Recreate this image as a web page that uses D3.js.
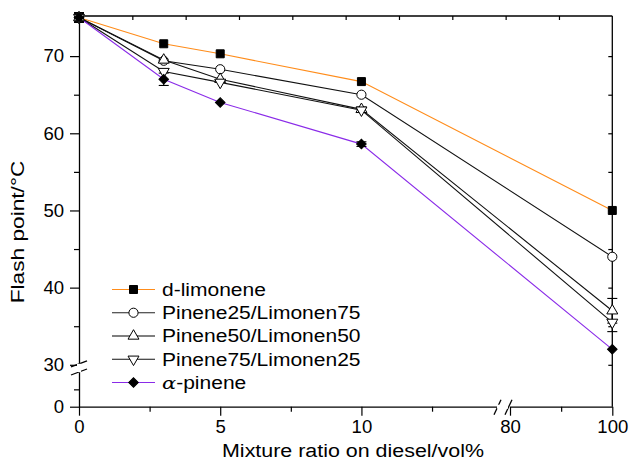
<!DOCTYPE html>
<html>
<head>
<meta charset="utf-8">
<script src="https://cdn.jsdelivr.net/npm/d3@7"></script>
<style>
  html, body { margin: 0; padding: 0; background: #fff; }
  svg { display: block; }
  text { font-family: "Liberation Sans", Arial, Helvetica, sans-serif; fill: #000; }
</style>
</head>
<body>
<svg id="chart" width="630" height="465"></svg>
<script>
// Mixture ratio on diesel (vol%) and measured flash points (°C)
const ratios = [0, 3, 5, 10, 100];
const dLimonene = [75, 71.6, 70.3, 66.7, 50];
const pinene25 = [75, 69.4, 68.3, 65, 44];
const pinene50 = [75, 69.5, 67.0, 63.1, 37];
const pinene75 = [75, 68.0, 66.6, 63.0, 35.5];
const alphaPinene = [75, 67, 64, 58.6, 32];

// Standard deviations (°C) for each point
const errDLimonene = [0.6, 0, 0, 0, 0];
const errPinene25 = [0.6, 0, 0, 0, 0];
const errPinene50 = [0.6, 0, 0, 0.3, 1.6];
const errPinene75 = [0.6, 0, 0, 0.3, 1.2];
const errAlphaPinene = [0.6, 0.8, 0, 0.3, 0];

const seriesNames = ["d-limonene", "Pinene25/Limonen75", "Pinene50/Limonen50", "Pinene75/Limonen25", "α-pinene"];

const xTicksLow = [0, 5, 10];
const xMinorLow = [2.5, 7.5, 12.5];
const xTicksHigh = [80, 100];
const xMinorHigh = [90];
const yTicksHigh = [30, 40, 50, 60, 70];
const yMinorHigh = [35, 45, 55, 65];
const yTicksLow = [0];
const yMinorLow = [5];

const series = [
  { name: seriesNames[0], values: dLimonene, err: errDLimonene, color: "#ff8c1a", legendColor: "#ff8c1a", symbol: "square", fill: "#000" },
  { name: seriesNames[1], values: pinene25, err: errPinene25, color: "#111", legendColor: "#222", symbol: "circle", fill: "#fff" },
  { name: seriesNames[2], values: pinene50, err: errPinene50, color: "#111", legendColor: "#555", symbol: "triUp", fill: "#fff" },
  { name: seriesNames[3], values: pinene75, err: errPinene75, color: "#111", legendColor: "#111", symbol: "triDown", fill: "#fff" },
  { name: seriesNames[4], values: alphaPinene, err: errAlphaPinene, color: "#8a2be8", legendColor: "#8a2be8", symbol: "diamond", fill: "#000" }
];

const svg = d3.select("#chart");

// Broken x axis: 0–15 and 80–100
const xLow = d3.scaleLinear().domain([0, 14.8]).range([79, 497]);
const xHigh = d3.scaleLinear().domain([80, 100]).range([510, 612.3]);
const xPos = v => (v <= 15 ? xLow(v) : xHigh(v));

// Broken y axis: 0–10 and 30–75
const yHigh = d3.scaleLinear().domain([30, 75.2]).range([364.8, 16]);
const yLow = d3.scaleLinear().domain([0, 10]).range([406.7, 372]);

const plotLeft = 79, plotRight = 612.3, plotTop = 16, plotBottom = 406.7;

// Stretch text horizontally to the wide face used in the figure
function widen(sel, k) {
  sel.each(function () {
    const w = this.getComputedTextLength();
    d3.select(this).attr("textLength", w * k).attr("lengthAdjust", "spacingAndGlyphs");
  });
}

function styleAxis(g) {
  g.selectAll("path.domain").attr("stroke", "#000").attr("stroke-width", 1.3);
  g.selectAll(".tick line").attr("stroke", "#000").attr("stroke-width", 1.2);
  g.selectAll(".tick text").style("font-size", "18px").attr("fill", "#000");
}

// Top and right frame lines with short inward ticks
const frame = svg.append("g");
frame.append("line").attr("x1", plotLeft).attr("x2", plotRight).attr("y1", plotTop).attr("y2", plotTop)
  .attr("stroke", "#000").attr("stroke-width", 1.3);
frame.append("line").attr("x1", plotRight).attr("x2", plotRight).attr("y1", plotTop).attr("y2", plotBottom)
  .attr("stroke", "#000").attr("stroke-width", 1.3);
const topScale = d3.scaleLinear().domain([0, 100]).range([plotLeft, plotRight]);
const topAxis = svg.append("g").attr("transform", `translate(0,${plotTop})`)
  .call(d3.axisBottom(topScale).tickValues(d3.range(10, 100, 10)).tickSize(4).tickSizeOuter(0).tickFormat(""));
topAxis.select("path.domain").remove();
styleAxis(topAxis);
const rightAxis = svg.append("g").attr("transform", `translate(${plotRight},0)`)
  .call(d3.axisLeft(yHigh).tickValues([30, 35, 40, 45, 50, 55, 60, 65, 70]).tickSize(4).tickFormat(""));
rightAxis.select("path.domain").remove();
styleAxis(rightAxis);

// Bottom axis, two segments
const xAxisLow = svg.append("g").attr("transform", `translate(0,${plotBottom})`)
  .call(d3.axisBottom(xLow).tickValues(xTicksLow).tickSize(9).tickSizeOuter(0).tickPadding(5).tickFormat(d3.format("d")));
const xAxisLowMinor = svg.append("g").attr("transform", `translate(0,${plotBottom})`)
  .call(d3.axisBottom(xLow).tickValues(xMinorLow).tickSize(5).tickSizeOuter(0).tickFormat(""));
xAxisLowMinor.select("path.domain").remove();
const xAxisHigh = svg.append("g").attr("transform", `translate(0,${plotBottom})`)
  .call(d3.axisBottom(xHigh).tickValues(xTicksHigh).tickSize(9).tickSizeOuter(0).tickPadding(5).tickFormat(d3.format("d")));
const xAxisHighMinor = svg.append("g").attr("transform", `translate(0,${plotBottom})`)
  .call(d3.axisBottom(xHigh).tickValues(xMinorHigh).tickSize(5).tickSizeOuter(0).tickFormat(""));
xAxisHighMinor.select("path.domain").remove();
[xAxisLow, xAxisLowMinor, xAxisHigh, xAxisHighMinor].forEach(styleAxis);

// Left axis, two segments
const yAxisHigh = svg.append("g").attr("transform", `translate(${plotLeft},0)`)
  .call(d3.axisLeft(yHigh).tickValues(yTicksHigh).tickSize(9).tickSizeOuter(0).tickPadding(6).tickFormat(d3.format("d")));
const yAxisHighMinor = svg.append("g").attr("transform", `translate(${plotLeft},0)`)
  .call(d3.axisLeft(yHigh).tickValues(yMinorHigh).tickSize(5).tickSizeOuter(0).tickFormat(""));
yAxisHighMinor.select("path.domain").remove();
const yAxisLow = svg.append("g").attr("transform", `translate(${plotLeft},0)`)
  .call(d3.axisLeft(yLow).tickValues(yTicksLow).tickSize(9).tickSizeOuter(0).tickPadding(6).tickFormat(d3.format("d")));
const yAxisLowMinor = svg.append("g").attr("transform", `translate(${plotLeft},0)`)
  .call(d3.axisLeft(yLow).tickValues(yMinorLow).tickSize(5).tickSizeOuter(0).tickFormat(""));
yAxisLowMinor.select("path.domain").remove();
[yAxisHigh, yAxisHighMinor, yAxisLow, yAxisLowMinor].forEach(styleAxis);

svg.selectAll(".tick text").call(widen, 1.03);

// Axis break marks
const breaks = svg.append("g").attr("stroke", "#000").attr("stroke-width", 1.3).attr("fill", "none");
const yBreakTop = yHigh(30) - 1, yBreakBot = yLow(10);
svg.append("rect").attr("x", plotLeft - 2).attr("y", yBreakTop).attr("width", 4).attr("height", yBreakBot - yBreakTop).attr("fill", "#fff");
breaks.append("line").attr("x1", plotLeft - 8).attr("y1", yBreakTop + 3).attr("x2", plotLeft + 8).attr("y2", yBreakTop - 3);
breaks.append("line").attr("x1", plotLeft - 8).attr("y1", yBreakBot + 3).attr("x2", plotLeft + 8).attr("y2", yBreakBot - 3);
const xBreakL = xLow.range()[1], xBreakR = xHigh.range()[0] - 2;
svg.append("rect").attr("x", xBreakL).attr("y", plotBottom - 2).attr("width", xBreakR - xBreakL).attr("height", 4).attr("fill", "#fff");
breaks.append("line").attr("x1", xBreakL - 3).attr("y1", plotBottom + 8).attr("x2", xBreakL + 4).attr("y2", plotBottom - 7);
breaks.append("line").attr("x1", xBreakR - 3).attr("y1", plotBottom + 8).attr("x2", xBreakR + 4).attr("y2", plotBottom - 7);

// Axis titles
svg.append("text").attr("x", 353).attr("y", 457).attr("text-anchor", "middle")
  .style("font-size", "18px").text("Mixture ratio on diesel/vol%").call(widen, 1.19);
svg.append("text").attr("transform", "translate(24,232) rotate(-90)").attr("text-anchor", "middle")
  .style("font-size", "18px").text("Flash point/°C").call(widen, 1.26);

// Marker shapes
function symbolPath(kind) {
  switch (kind) {
    case "square": return d3.symbol(d3.symbolSquare, 64)();
    case "circle": return d3.symbol(d3.symbolCircle, 66)();
    case "triUp": return d3.symbol(d3.symbolTriangle, 52)();
    case "triDown": return d3.symbol(d3.symbolTriangle, 52)();
    case "diamond": return d3.symbol(d3.symbolSquare, 46)();
  }
}
function symbolRotate(kind) {
  return kind === "triDown" ? 180 : kind === "diamond" ? 45 : 0;
}

const line = d3.line().x(d => xPos(d.x)).y(d => yHigh(d.y));
const plot = svg.append("g");

series.forEach(s => {
  const pts = ratios.map((x, i) => ({ x, y: s.values[i], e: s.err[i] }));
  plot.append("path").datum(pts).attr("d", line)
    .attr("fill", "none").attr("stroke", s.color).attr("stroke-width", 1.1);
});

// Error bars
series.forEach(s => {
  const pts = ratios.map((x, i) => ({ x, y: s.values[i], e: s.err[i] })).filter(d => d.e > 0);
  const g = plot.append("g").attr("stroke", "#000").attr("stroke-width", 1.1);
  pts.forEach(d => {
    const cx = xPos(d.x), y1 = yHigh(d.y + d.e), y2 = yHigh(d.y - d.e);
    g.append("line").attr("x1", cx).attr("x2", cx).attr("y1", y1).attr("y2", y2);
    g.append("line").attr("x1", cx - 5).attr("x2", cx + 5).attr("y1", y1).attr("y2", y1);
    g.append("line").attr("x1", cx - 5).attr("x2", cx + 5).attr("y1", y2).attr("y2", y2);
  });
});

// Markers
series.forEach(s => {
  const pts = ratios.map((x, i) => ({ x, y: s.values[i] }));
  plot.append("g").selectAll("path").data(pts).join("path")
    .attr("d", symbolPath(s.symbol))
    .attr("transform", d => `translate(${xPos(d.x)},${yHigh(d.y)}) rotate(${symbolRotate(s.symbol)})`)
    .attr("fill", s.fill).attr("stroke", "#000").attr("stroke-width", 1);
});

// Legend
const legend = svg.append("g");
const legendRow = d3.scaleLinear().domain([0, 4]).range([289.5, 382.5]);
series.forEach((s, i) => {
  const y = legendRow(i);
  legend.append("line").attr("x1", 112).attr("x2", 155).attr("y1", y).attr("y2", y)
    .attr("stroke", s.legendColor).attr("stroke-width", i === 2 ? 1.6 : 1.1);
  legend.append("path").attr("d", symbolPath(s.symbol))
    .attr("transform", `translate(133.5,${y}) rotate(${symbolRotate(s.symbol)})`)
    .attr("fill", s.fill).attr("stroke", "#000").attr("stroke-width", 1);
  const t = legend.append("text").attr("x", 162).attr("y", y + 6.3).style("font-size", "17.5px");
  if (s.name.startsWith("α")) {
    t.append("tspan").style("font-family", "'DejaVu Serif', 'Liberation Serif', serif")
      .style("font-style", "italic").text("α");
    t.append("tspan").text(s.name.slice(1));
  } else {
    t.text(s.name);
  }
  t.call(widen, 1.2);
});
</script>
</body>
</html>
